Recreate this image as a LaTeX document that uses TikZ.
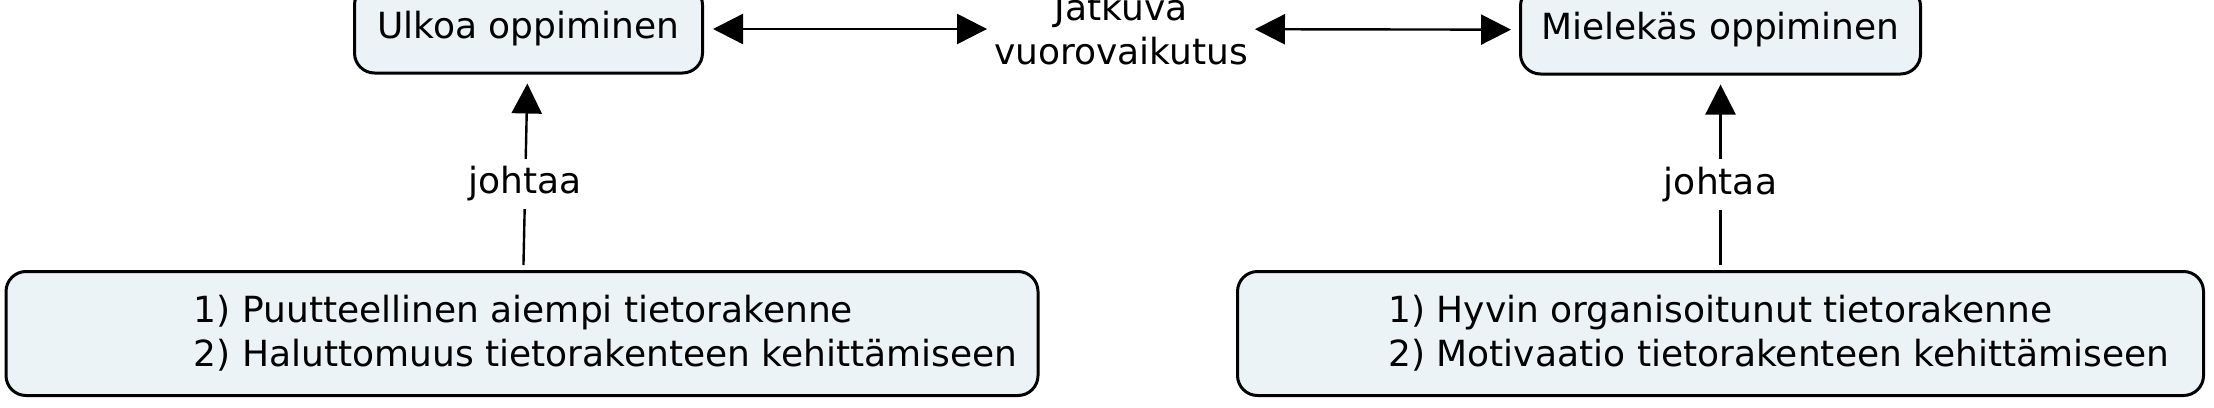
\documentclass[tikz,border=0pt]{standalone}
\usepackage{fontspec}
\setmainfont{DejaVu Sans}
\usetikzlibrary{arrows.meta}
\usetikzlibrary{positioning}

\definecolor{boxfill}{RGB}{236,243,246}

\tikzset{
  concept/.style={draw, line width=1.5pt, rounded corners=10pt, fill=boxfill,
    inner sep=0pt},
  boxtext/.style={align=left, inner sep=0pt},
  link/.style={line width=1.2pt, -{Triangle[length=15pt,width=15pt]}},
  lbl/.style={fill=white, inner sep=4pt}
}

\begin{document}
\begin{tikzpicture}[x=0.5pt, y=-0.5pt, font=\fontsize{18pt}{22pt}\selectfont]
\useasboundingbox (0,0) rectangle (2214,407);

% top row
\node[concept, minimum width=174pt, minimum height=44pt] (ulkoa) at (528.5,29) {Ulkoa oppiminen};
\node[align=center] (jatkuva) at (1121,29) {Jatkuva\\vuorovaikutus};
\node[concept, minimum width=200pt, minimum height=44pt] (mielekas) at (1720.5,30) {Mielekäs oppiminen};

% bottom row
\node[concept, minimum width=516pt, minimum height=62pt] (puut) at (522,333.5) {};
\node[boxtext, right=94.5pt of puut.west] (puuttext) {1) Puutteellinen aiempi tietorakenne\\2) Haluttomuus tietorakenteen kehittämiseen};
\node[concept, minimum width=483pt, minimum height=62pt] (hyvin) at (1720.5,333.5) {};
\node[boxtext, right=76pt of hyvin.west] (hyvintext) {1) Hyvin organisoitunut tietorakenne\\2) Motivaatio tietorakenteen kehittämiseen};

\draw[link, {Triangle[length=15pt,width=15pt]}-{Triangle[length=15pt,width=15pt]}, shorten <=4.5pt] (ulkoa) -- (jatkuva);
\draw[link, {Triangle[length=15pt,width=15pt]}-{Triangle[length=15pt,width=15pt]}, shorten >=4pt] (jatkuva) -- (mielekas);
\draw[link, shorten >=4.5pt, shorten <=2.5pt] (puut) -- node[lbl, pos=0.44] {johtaa} (ulkoa);
\draw[link, shorten >=4.5pt, shorten <=2.5pt] (hyvin) -- node[lbl, pos=0.44] {johtaa} (mielekas);
\end{tikzpicture}
\end{document}
